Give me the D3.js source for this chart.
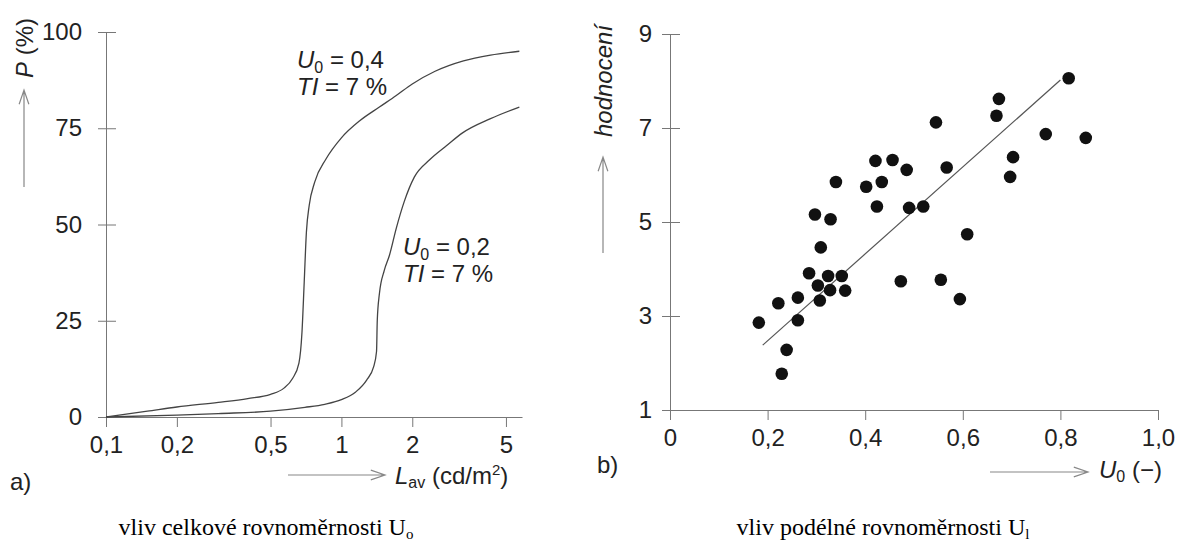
<!DOCTYPE html>
<html>
<head>
<meta charset="utf-8">
<script src="https://cdn.jsdelivr.net/npm/d3@7"></script>
<style>
  body { margin: 0; background: #fff; }
  svg text { font-family: "Liberation Sans", Arial, sans-serif; fill: #222; }
  svg text.caption { font-family: "Liberation Serif", "Times New Roman", serif; fill: #000; }
</style>
</head>
<body>
<svg id="chart" width="1183" height="543"></svg>
<script>
// a) P (%) vs L_av, log axis
var lavTicks = [0.1, 0.2, 0.5, 1, 2, 5];
var pTicks = [0, 25, 50, 75, 100];
var curve04L = [0.1, 0.15, 0.2, 0.3, 0.4, 0.5, 0.57, 0.62, 0.66, 0.68, 0.695, 0.71, 0.73, 0.77, 0.86, 1.0, 1.2, 1.45, 1.71, 2.0, 2.5, 3.3, 4.3, 5.7];
var curve04P = [0, 1.5, 2.6, 3.8, 4.8, 5.9, 7.5, 10, 14, 22, 35, 48, 55, 61, 67, 72.5, 77, 80.5, 83.5, 86.5, 89.8, 92.5, 94, 95];
var curve02L = [0.1, 0.2, 0.3, 0.5, 0.7, 0.85, 1.0, 1.15, 1.28, 1.37, 1.41, 1.42, 1.45, 1.52, 1.6, 1.71, 1.85, 2.04, 2.37, 2.8, 3.27, 4.3, 5.7];
var curve02P = [0, 0.5, 0.9, 1.5, 2.5, 3.3, 4.5, 6.5, 9.6, 13, 17, 25, 32, 38, 42, 49, 56, 62.3, 66.8, 70.5, 73.8, 77.5, 80.5];

// b) rating vs U0, scatter + fit
var u0Ticks = [0, 0.2, 0.4, 0.6, 0.8, 1.0];
var ratingTicks = [1, 3, 5, 7, 9];
var pointsU0 = [0.182, 0.222, 0.229, 0.239, 0.262, 0.262, 0.285, 0.297, 0.303, 0.307, 0.309, 0.324, 0.328, 0.329, 0.340, 0.352, 0.359, 0.402, 0.421, 0.424, 0.434, 0.456, 0.473, 0.485, 0.490, 0.519, 0.545, 0.555, 0.567, 0.594, 0.609, 0.669, 0.674, 0.697, 0.703, 0.770, 0.817, 0.852];
var pointsRating = [2.86, 3.27, 1.77, 2.28, 3.39, 2.91, 3.91, 5.16, 3.65, 3.33, 4.46, 3.85, 3.55, 5.06, 5.85, 3.85, 3.54, 5.75, 6.30, 5.33, 5.85, 6.32, 3.74, 6.11, 5.30, 5.33, 7.12, 3.77, 6.16, 3.36, 4.74, 7.26, 7.62, 5.96, 6.38, 6.87, 8.06, 6.79];
var fitU0 = [0.19, 0.80];
var fitRating = [2.38, 8.02];

var svg = d3.select('#chart');
var axisColor = '#777';
var comma = function(d) { return String(d).replace('.', ','); };

// draw a thin arrow with an open head
var arrow = function(x1, y1, x2, y2) {
  var a = Math.atan2(y2 - y1, x2 - x1);
  var len = 15, spread = 0.33;
  var p = 'M' + x1 + ',' + y1 + 'L' + x2 + ',' + y2 +
    'M' + (x2 - len * Math.cos(a - spread)) + ',' + (y2 - len * Math.sin(a - spread)) +
    'L' + x2 + ',' + y2 +
    'L' + (x2 - len * Math.cos(a + spread)) + ',' + (y2 - len * Math.sin(a + spread));
  svg.append('path').attr('d', p).attr('fill', 'none')
    .attr('stroke', '#888').attr('stroke-width', 1.2);
};

var styleAxis = function(g) {
  g.attr('font-family', null).attr('font-size', 24);
  g.select('.domain').attr('stroke', axisColor);
  g.selectAll('.tick line').attr('stroke', axisColor);
  g.selectAll('.tick text').attr('fill', '#222');
};

// ---------- chart a) ----------
var xA = d3.scaleLog().domain([0.1, 5.85]).range([106, 522]);
var yA = d3.scaleLinear().domain([0, 100]).range([417, 32]);

var gy = svg.append('g').attr('transform', 'translate(106,0)')
  .call(d3.axisLeft(yA).tickValues(pTicks).tickSize(8).tickSizeOuter(0).tickPadding(16));
gy.selectAll('.tick line').attr('x1', 10);
styleAxis(gy);

var gx = svg.append('g').attr('transform', 'translate(0,417)')
  .call(d3.axisBottom(xA).tickValues(lavTicks).tickFormat(comma).tickSize(10).tickSizeOuter(0).tickPadding(9));
styleAxis(gx);

var lineA = d3.line()
  .x(function(d) { return xA(d[0]); })
  .y(function(d) { return yA(d[1]); })
  .curve(d3.curveMonotoneX);

var c04 = curve04L.map(function(l, i) { return [l, curve04P[i]]; });
var c02 = curve02L.map(function(l, i) { return [l, curve02P[i]]; });
[c04, c02].forEach(function(c) {
  svg.append('path').datum(c).attr('d', lineA)
    .attr('fill', 'none').attr('stroke', '#444').attr('stroke-width', 1.3);
});

// curve labels
var curveLabel = function(x, y, val) {
  var t = svg.append('text').attr('x', x).attr('y', y).attr('font-size', 24);
  t.append('tspan').attr('font-style', 'italic').text('U');
  t.append('tspan').attr('font-size', 16).attr('dy', 5).text('0');
  t.append('tspan').attr('dy', -5).text(' = ' + val);
  var t2 = svg.append('text').attr('x', x).attr('y', y + 27).attr('font-size', 24);
  t2.append('tspan').attr('font-style', 'italic').text('TI');
  t2.append('tspan').text(' = 7 %');
};
curveLabel(297, 68, '0,4');
curveLabel(403, 255, '0,2');

// axis titles a)
arrow(24, 187, 24, 90);
var pt = svg.append('text').attr('transform', 'translate(33,48) rotate(-90)')
  .attr('text-anchor', 'middle').attr('font-size', 24);
pt.append('tspan').attr('font-style', 'italic').text('P');
pt.append('tspan').text(' (%)');

arrow(288, 475, 385, 475);
var lt = svg.append('text').attr('x', 395).attr('y', 484).attr('font-size', 24);
lt.append('tspan').attr('font-style', 'italic').text('L');
lt.append('tspan').attr('font-size', 16).attr('dy', 4).text('av');
lt.append('tspan').attr('dy', -4).text(' (cd/m');
lt.append('tspan').attr('font-size', 15).attr('dy', -9).text('2');
lt.append('tspan').attr('dy', 9).text(')');

svg.append('text').attr('x', 10).attr('y', 490).attr('font-size', 24).text('a)');

// ---------- chart b) ----------
var xB = d3.scaleLinear().domain([0, 1]).range([670, 1158]);
var yB = d3.scaleLinear().domain([1, 9]).range([410, 34]);

var gyB = svg.append('g').attr('transform', 'translate(670,0)')
  .call(d3.axisLeft(yB).tickValues(ratingTicks).tickSize(8).tickSizeOuter(0).tickPadding(10));
gyB.selectAll('.tick line').attr('x1', 10);
styleAxis(gyB);

var gxB = svg.append('g').attr('transform', 'translate(0,410)')
  .call(d3.axisBottom(xB).tickValues(u0Ticks)
    .tickFormat(function(d) { return d === 0 ? '0' : comma(d.toFixed(1)); })
    .tickSize(10).tickSizeOuter(0).tickPadding(9));
styleAxis(gxB);

svg.append('line')
  .attr('x1', xB(fitU0[0])).attr('y1', yB(fitRating[0]))
  .attr('x2', xB(fitU0[1])).attr('y2', yB(fitRating[1]))
  .attr('stroke', '#555').attr('stroke-width', 1.2);

svg.append('g').selectAll('circle')
  .data(pointsU0)
  .enter().append('circle')
  .attr('cx', function(d) { return xB(d); })
  .attr('cy', function(d, i) { return yB(pointsRating[i]); })
  .attr('r', 6.3)
  .attr('fill', '#111');

// axis titles b)
arrow(603, 253, 603, 157);
svg.append('text').attr('transform', 'translate(612,81) rotate(-90)')
  .attr('text-anchor', 'middle').attr('font-size', 24).attr('font-style', 'italic')
  .text('hodnocení');

arrow(990, 472, 1088, 472);
var ut = svg.append('text').attr('x', 1099).attr('y', 478).attr('font-size', 24);
ut.append('tspan').attr('font-style', 'italic').text('U');
ut.append('tspan').attr('font-size', 16).attr('dy', 4).text('0');
ut.append('tspan').attr('dy', -4).text(' (\u2212)');

svg.append('text').attr('x', 597).attr('y', 473).attr('font-size', 24).text('b)');

// captions
var cap = function(x, txt, sub) {
  var t = svg.append('text').attr('class', 'caption').attr('x', x).attr('y', 535)
    .attr('text-anchor', 'middle').attr('font-size', 24);
  t.append('tspan').text(txt);
  t.append('tspan').attr('font-size', 15).attr('dy', 4).text(sub);
};
cap(266, 'vliv celkové rovnoměrnosti U', 'o');
cap(883, 'vliv podélné rovnoměrnosti U', 'l');
</script>
</body>
</html>
